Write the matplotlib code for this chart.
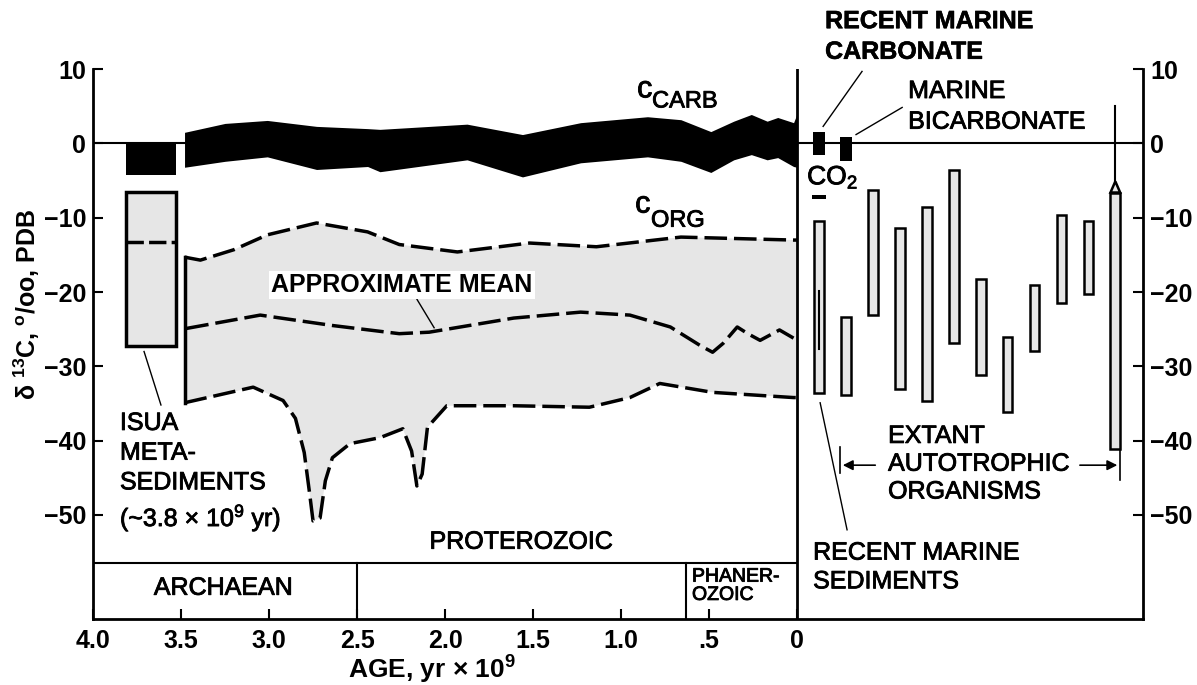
import numpy as np
import matplotlib.pyplot as plt
import matplotlib.patches as mpatches
import matplotlib.patheffects as pe

plt.rcParams['font.family'] = ['Liberation Sans', 'DejaVu Sans']
plt.rcParams['mathtext.default'] = 'regular'

# carbonate band (C_CARB), age in 10^9 yr
carb_age = [3.48, 3.25, 3.01, 2.73, 2.44, 2.37, 1.875, 1.56, 1.23, 0.85, 0.66, 0.49, 0.36, 0.26, 0.17, 0.11, 0.02, 0.0]
carb_top = [1.5, 2.7, 3.1, 2.3, 2.0, 1.9, 2.6, 1.2, 2.8, 3.6, 3.2, 1.6, 3.0, 3.9, 3.0, 3.5, 2.8, 4.0]
carb_bot = [-3.2, -2.4, -1.8, -3.5, -3.1, -3.8, -2.2, -4.5, -2.6, -1.8, -2.4, -3.9, -2.2, -1.5, -2.2, -1.9, -3.1, -3.2]

# organic carbon envelope (C_ORG)
org_up_age = [3.48, 3.39, 3.2, 3.01, 2.73, 2.44, 2.26, 1.93, 1.52, 1.14, 0.66, 0.02, 0.0]
org_up = [-15.3, -15.7, -14.3, -12.3, -10.7, -11.9, -13.6, -14.6, -13.4, -13.9, -12.6, -13.0, -13.0]
org_lo_age = [3.48, 3.09, 2.92, 2.85, 2.80, 2.77, 2.75, 2.71, 2.68, 2.64, 2.54, 2.37, 2.24, 2.19, 2.16,
              2.13, 2.10, 1.99, 1.61, 1.18, 0.95, 0.78, 0.48, 0.02, 0.0]
org_lo = [-34.9, -32.8, -34.6, -37.0, -41.6, -47.0, -50.8, -50.4, -45.4, -42.3, -40.4, -39.6, -38.4, -41.4, -46.1,
          -44.5, -38.2, -35.3, -35.3, -35.5, -34.2, -32.3, -33.5, -34.2, -34.2]
mean_age = [3.47, 3.05, 2.64, 2.26, 2.09, 1.61, 1.23, 0.95, 0.72, 0.55, 0.48, 0.42, 0.34, 0.28, 0.21, 0.10, 0.02]
mean_val = [-24.9, -23.1, -24.5, -25.6, -25.4, -23.5, -22.7, -23.1, -24.7, -27.2, -28.1, -26.9, -24.7, -25.6, -26.5, -25.1, -26.2]

# Isua metasediments (~3.8 Gyr)
isua_age = [3.81, 3.53]
isua_carb = [0.0, -4.2]
isua_org = [-6.5, -27.2]
isua_org_mid = -13.2

# modern samples (right panel)
carbonate_rng = [1.6, -1.6]
bicarb_rng = [0.9, -2.4]
co2_rng = [-6.9, -7.5]
sed_top, sed_bot = -10.4, -33.6
sed_dark = [-19.8, -27.6]
auto_top = [-23.3, -6.3, -11.4, -8.5, -3.6, -18.2, -26.0, -19.1, -9.6, -10.4, -5.1]
auto_bot = [-33.9, -23.1, -33.0, -34.7, -26.9, -31.2, -36.1, -27.9, -21.5, -20.3, -41.1]
last_whisker = 5.1

xticks = [4.0, 3.5, 3.0, 2.5, 2.0, 1.5, 1.0, 0.5, 0.0]
xticklabels = ['4.0', '3.5', '3.0', '2.5', '2.0', '1.5', '1.0', '.5', '0']
yticks = [10, 0, -10, -20, -30, -40, -50]

fig = plt.figure(figsize=(11.97, 6.85), dpi=100)
ax = fig.add_axes([0.0777, 0.0964, 0.955 - 0.0777, 0.899 - 0.0964])
ax.set_xlim(4.0, -1.966)
ax.set_ylim(-64, 10)

gray = '#e6e6e6'
dash = (0, (6.5, 2.0))
med = [pe.withStroke(linewidth=0.6, foreground='black')]

# organic envelope
poly_x = org_up_age + org_lo_age[::-1]
poly_y = org_up + org_lo[::-1]
ax.fill(poly_x, poly_y, color=gray, lw=0, zorder=1)
ax.plot(org_up_age, org_up, color='black', lw=2.5, ls=dash, zorder=3)
ax.plot(org_lo_age, org_lo, color='black', lw=2.5, ls=dash, zorder=3)
ax.plot(mean_age, mean_val, color='black', lw=2.5, ls=dash, zorder=3)
ax.plot([org_up_age[0], org_lo_age[0]], [org_up[0], org_lo[0]], color='black', lw=2.5, zorder=3)

# carbonate band
ax.fill_between(carb_age, carb_top, carb_bot, color='black', lw=0, zorder=3)

# zero lines
ax.plot([4.0, 3.48], [0, 0], color='black', lw=1.5, zorder=2)
ax.plot([0, -1.966], [0, 0], color='black', lw=1.5, zorder=2)

# Isua boxes
ax.fill_between(isua_age, isua_carb[0], isua_carb[1], color='black', lw=0, zorder=3)
ax.add_patch(mpatches.Rectangle((isua_age[1], isua_org[1]), isua_age[0] - isua_age[1],
                                isua_org[0] - isua_org[1], facecolor=gray, edgecolor='black',
                                lw=2.5, zorder=3))
ax.plot(isua_age, [isua_org_mid, isua_org_mid], color='black', lw=2.5, ls=(0, (5, 1.5)), zorder=4)

# geologic time boxes
ax.plot([4.0, 0], [-56.4, -56.4], color='black', lw=1.5)
ax.plot([2.5, 2.5], [-64, -56.4], color='black', lw=1.5)
ax.plot([0.63, 0.63], [-64, -56.4], color='black', lw=1.5)
ax.plot([0, 0], [-64, 10], color='black', lw=2)

# right panel bars
x0, dx = -0.125, -0.153
bw = 0.055
ax.bar(x0, carbonate_rng[0] - carbonate_rng[1], bottom=carbonate_rng[1], width=0.068,
       color='black', zorder=3)
ax.bar(x0 + dx, bicarb_rng[0] - bicarb_rng[1], bottom=bicarb_rng[1], width=0.068,
       color='black', zorder=3)
ax.bar(x0, co2_rng[0] - co2_rng[1], bottom=co2_rng[1], width=0.08, color='black', zorder=3)
ax.bar(x0, sed_top - sed_bot, bottom=sed_bot, width=bw, facecolor=gray,
       edgecolor='black', lw=1.8, zorder=3)
ax.plot([x0, x0], sed_dark, color='black', lw=1.5, zorder=4)
auto_x = [x0 + dx * (i + 1) for i in range(len(auto_top))]
tops = np.array(auto_top, dtype=float)
tops[-1] -= 1.5  # last bar has a pointed cap
ax.bar(auto_x, tops - np.array(auto_bot), bottom=auto_bot, width=bw,
       facecolor=gray, edgecolor='black', lw=1.8, zorder=3)
xl = auto_x[-1]
ax.fill([xl - bw / 2, xl, xl + bw / 2], [tops[-1], auto_top[-1], tops[-1]],
        facecolor=gray, edgecolor='black', lw=1.8, zorder=3)
ax.plot([xl, xl], [auto_top[-1], last_whisker], color='black', lw=1.5, zorder=4)

# axes styling
for s in ['left', 'right', 'bottom']:
    ax.spines[s].set_linewidth(2)
ax.spines['top'].set_visible(False)
ax.set_xticks(xticks)
ax.set_xticklabels(xticklabels)
ax.set_yticks(yticks)
ax.tick_params(axis='x', direction='in', length=7, width=1.5, pad=7,
               labelsize=18)
ax.tick_params(axis='y', direction='in', length=7, width=1.5, pad=5,
               labelsize=18, right=True, labelright=True)
for lab in ax.get_xticklabels() + ax.get_yticklabels():
    lab.set_fontweight('bold')

ax.text(2.074, -70.8, 'AGE, yr × 10$^{9}$', ha='center', va='center',
        fontsize=19, fontweight='bold', clip_on=False)
fig.text(0.0226, 0.555, 'δ $^{13}$C, $^{o}$/oo, PDB', rotation=90, ha='center',
         va='center', fontsize=18, fontweight='bold')

fs = 18
ax.text(0.909, 6.2, 'c', fontsize=22, va='baseline', path_effects=med)
ax.text(0.824, 4.85, 'CARB', fontsize=17, va='baseline', path_effects=med)
ax.text(0.92, -9.3, 'c', fontsize=22, va='baseline', path_effects=med)
ax.text(0.83, -11.2, 'ORG', fontsize=17, va='baseline', path_effects=med)
ax.text(2.244, -19.0, 'APPROXIMATE MEAN', ha='center', va='center', fontsize=18,
        fontweight='bold', zorder=5,
        bbox=dict(facecolor='white', edgecolor='none', pad=1.5))
ax.plot([2.159, 2.062], [-21.0, -24.8], color='black', lw=1)
ax.text(3.847, -36.0, 'ISUA\nMETA-\nSEDIMENTS\n(~3.8 × 10$^{9}$ yr)', ha='left', va='top',
        fontsize=fs, linespacing=1.3, path_effects=med)
ax.plot([3.71, 3.614], [-28.0, -35.2], color='black', lw=1)
ax.text(3.261, -59.8, 'ARCHAEAN', ha='center', va='center', fontsize=fs, path_effects=med)
ax.text(1.568, -53.6, 'PROTEROZOIC', ha='center', va='center', fontsize=fs, path_effects=med)
ax.text(0.597, -59.6, 'PHANER-\nOZOIC', ha='left', va='center', fontsize=14,
        linespacing=1.1, path_effects=med)
ax.text(-0.159, 14.4, 'RECENT MARINE\nCARBONATE', ha='left', va='center', fontsize=fs,
        fontweight='bold', linespacing=1.35, clip_on=False,
        path_effects=[pe.withStroke(linewidth=0.4, foreground='black')])
ax.plot([-0.369, -0.148], [9.7, 2.3], color='black', lw=1)
ax.text(-0.631, 5.0, 'MARINE\nBICARBONATE', ha='left', va='center', fontsize=fs,
        linespacing=1.35, path_effects=med)
ax.plot([-0.597, -0.335], [4.85, 1.2], color='black', lw=1)
ax.text(-0.057, -5.5, 'CO$_{2}$', ha='left', va='baseline', fontsize=19, path_effects=med)
ax.text(-0.517, -43.1, 'EXTANT\nAUTOTROPHIC\nORGANISMS', ha='left', va='center',
        fontsize=fs, linespacing=1.2, path_effects=med)
ax.annotate('', xy=(-0.244, -43.3), xytext=(-0.46, -43.3),
            arrowprops=dict(arrowstyle='-|>', color='black', lw=1.2, mutation_scale=15))
ax.annotate('', xy=(-1.835, -43.3), xytext=(-1.591, -43.3),
            arrowprops=dict(arrowstyle='-|>', color='black', lw=1.2, mutation_scale=15))
ax.plot([-0.244, -0.244], [-40.8, -44.3], color='black', lw=1.2)
ax.plot([-1.835, -1.835], [-40.8, -45.3], color='black', lw=1.2)
ax.text(-0.091, -57.0, 'RECENT MARINE\nSEDIMENTS', ha='left', va='center', fontsize=fs,
        linespacing=1.25, path_effects=med)
ax.plot([-0.131, -0.284], [-34.9, -52.0], color='black', lw=1)

fig.savefig('out.png', dpi=100)
